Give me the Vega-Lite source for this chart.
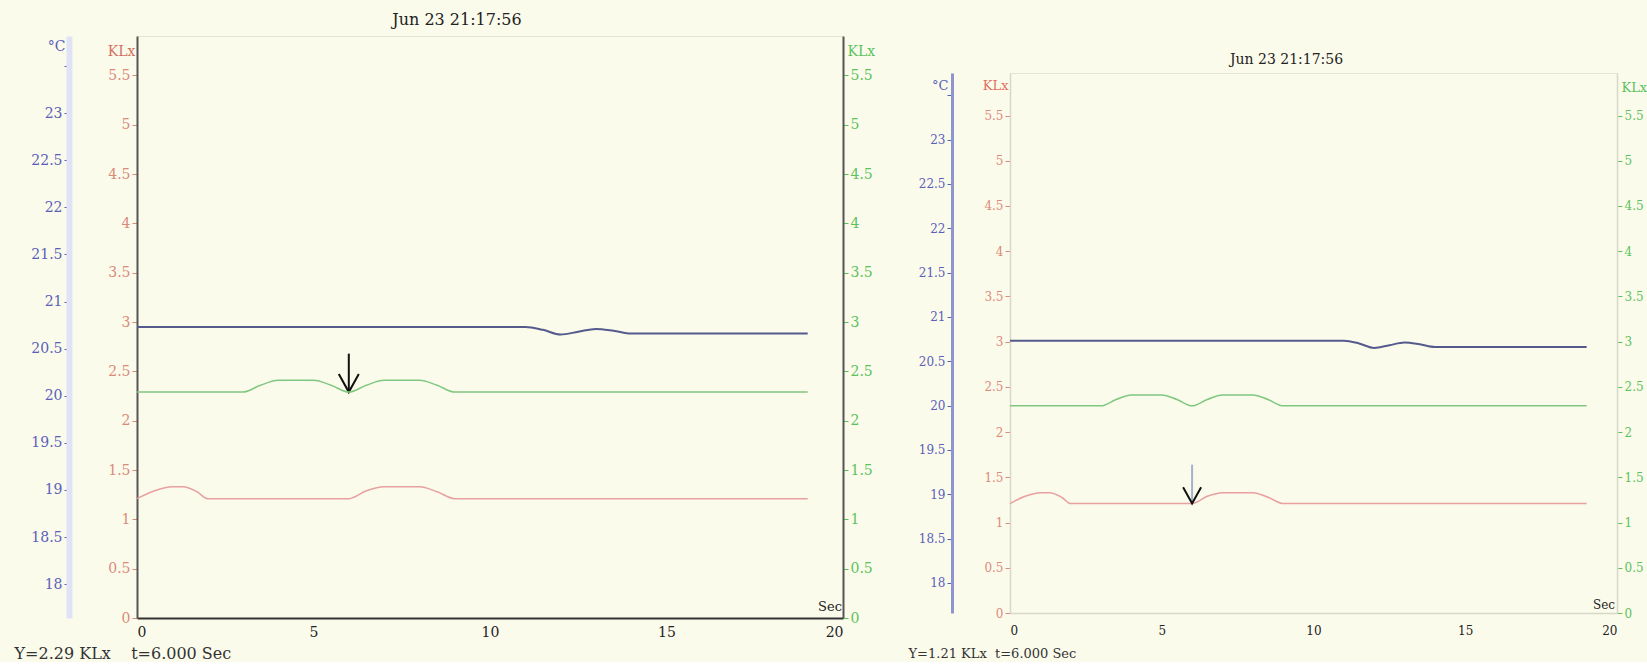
{
  "$schema": "https://vega.github.io/schema/vega-lite/v6.json",
  "background": "#fbfbec",
  "padding": {"left": 13, "top": 11, "right": 0, "bottom": 0},
  "spacing": 31,
  "config": {
    "font": "DejaVu Serif",
    "view": {"stroke": null},
    "axis": {"grid": false, "labelFont": "DejaVu Serif", "titleFont": "DejaVu Serif", "titleFontWeight": "normal"},
    "title": {"font": "DejaVu Serif", "fontWeight": "normal", "color": "#222"}
  },
  "datasets": {
    "blue": [
      {"t": 0, "v": 20.73}, {"t": 11, "v": 20.73}, {"t": 11.5, "v": 20.7}, {"t": 12, "v": 20.65},
      {"t": 12.5, "v": 20.68}, {"t": 13, "v": 20.71}, {"t": 13.5, "v": 20.69}, {"t": 14, "v": 20.66}, {"t": 19, "v": 20.66}
    ],
    "green": [
      {"t": 0, "v": 2.29}, {"t": 3, "v": 2.29}, {"t": 3.5, "v": 2.36}, {"t": 4, "v": 2.41}, {"t": 5, "v": 2.41},
      {"t": 5.5, "v": 2.36}, {"t": 6, "v": 2.29}, {"t": 6.5, "v": 2.36}, {"t": 7, "v": 2.41}, {"t": 8, "v": 2.41},
      {"t": 8.5, "v": 2.36}, {"t": 9, "v": 2.29}, {"t": 19, "v": 2.29}
    ],
    "red": [
      {"t": 0, "v": 1.21}, {"t": 0.5, "v": 1.29}, {"t": 1, "v": 1.33}, {"t": 1.3, "v": 1.33}, {"t": 1.7, "v": 1.28},
      {"t": 2, "v": 1.21}, {"t": 6, "v": 1.21}, {"t": 6.5, "v": 1.29}, {"t": 7, "v": 1.33}, {"t": 8, "v": 1.33},
      {"t": 8.5, "v": 1.28}, {"t": 9, "v": 1.21}, {"t": 19, "v": 1.21}
    ],
    "arrowL": [{"t": 6, "top": 2.68, "tip": 2.29}],
    "arrowR": [{"t": 6, "top": 1.64, "tip": 1.21}],
    "sec": [{"t": 20, "v": 0, "label": "Sec"}]
  },
  "hconcat": [
    {
      "width": 706,
      "height": 582,
      "title": {"text": "Jun 23 21:17:56", "fontSize": 16, "offset": 8, "dx": -33},
      "view": {"stroke": "#e4e4d2"},
      "encoding": {
        "x": {
          "field": "t", "type": "quantitative",
          "scale": {"domain": [0, 20], "nice": false},
          "axis": {
            "values": [0, 5, 10, 15, 20], "ticks": false, "domainColor": "#333", "domainWidth": 2,
            "labelColor": "#222", "labelFontSize": 14, "labelPadding": 7,
            "title": "Y=2.29 KLx\u00a0\u00a0\u00a0\u00a0t=6.000 Sec", "titleFontSize": 16, "titleColor": "#333",
            "titleAlign": "left", "titleX": -123, "titleY": 35, "titleBaseline": "middle"
          }
        }
      },
      "layer": [
        {
          "data": {"name": "red"},
          "mark": {"type": "line", "color": "#e8a0a0", "strokeWidth": 1.5, "interpolate": "monotone"},
          "encoding": {
            "y": {
              "field": "v", "type": "quantitative",
              "scale": {"domain": [0, 5.9], "nice": false, "zero": false},
              "axis": {
                "orient": "left", "values": [0, 0.5, 1, 1.5, 2, 2.5, 3, 3.5, 4, 4.5, 5, 5.5], "format": "~g",
                "labelColor": "#db8a78", "labelFontSize": 14, "tickColor": "#db8a78", "tickSize": 5,
                "domainColor": "#555", "domainWidth": 2,
                "title": "KLx", "titleColor": "#d07060", "titleFontSize": 14, "titleAngle": 0,
                "titleAlign": "right", "titleBaseline": "middle", "titleX": -2, "titleY": 15
              }
            }
          }
        },
        {
          "data": {"name": "arrowL"},
          "mark": {"type": "rule", "color": "#111", "strokeWidth": 2},
          "encoding": {
            "y": {"field": "top", "type": "quantitative", "scale": {"domain": [0, 5.9], "nice": false, "zero": false}, "axis": null},
            "y2": {"field": "tip"}
          }
        },
        {
          "data": {"name": "arrowL"},
          "mark": {"type": "point", "shape": "M-1,-1.8L0,0L1,-1.8", "filled": false, "stroke": "#111", "strokeWidth": 2, "size": 400, "opacity": 1},
          "encoding": {"y": {"field": "tip", "type": "quantitative", "scale": {"domain": [0, 5.9], "nice": false, "zero": false}, "axis": null}}
        },
        {
          "data": {"name": "sec"},
          "mark": {"type": "text", "align": "right", "baseline": "bottom", "dx": -1, "dy": -4, "fontSize": 13, "color": "#222"},
          "encoding": {
            "y": {"field": "v", "type": "quantitative", "scale": {"domain": [0, 5.9], "nice": false, "zero": false}, "axis": null},
            "text": {"field": "label"}
          }
        },
        {
          "data": {"name": "green"},
          "mark": {"type": "line", "color": "#80c880", "strokeWidth": 1.5, "interpolate": "monotone"},
          "encoding": {
            "y": {
              "field": "v", "type": "quantitative",
              "scale": {"domain": [0, 5.9], "nice": false, "zero": false},
              "axis": {
                "orient": "right", "values": [0, 0.5, 1, 1.5, 2, 2.5, 3, 3.5, 4, 4.5, 5, 5.5], "format": "~g",
                "labelColor": "#5cc25c", "labelFontSize": 14, "tickColor": "#5cc25c", "tickSize": 5,
                "domainColor": "#555", "domainWidth": 2,
                "title": "KLx", "titleColor": "#5cc25c", "titleFontSize": 14, "titleAngle": 0,
                "titleAlign": "left", "titleBaseline": "middle", "titleX": 4, "titleY": 15
              }
            }
          }
        },
        {
          "data": {"name": "blue"},
          "mark": {"type": "line", "color": "#555a8c", "strokeWidth": 2, "interpolate": "monotone"},
          "encoding": {
            "y": {
              "field": "v", "type": "quantitative",
              "scale": {"domain": [17.64, 23.82], "nice": false, "zero": false},
              "axis": {
                "orient": "left", "offset": 68,
                "values": [18, 18.5, 19, 19.5, 20, 20.5, 21, 21.5, 22, 22.5, 23, 23.5], "format": "~g",
                "labelExpr": "datum.value == 23.5 ? '' : datum.label",
                "labelColor": "#5a60b8", "labelFontSize": 14, "tickColor": "#5a60b8", "tickSize": 5,
                "domainColor": "#e0e3f5", "domainWidth": 6,
                "title": "°C", "titleColor": "#5a60b8", "titleFontSize": 14, "titleAngle": 0,
                "titleAlign": "right", "titleBaseline": "middle", "titleX": -4, "titleY": 10
              }
            }
          }
        }
      ],
      "resolve": {"scale": {"y": "independent"}, "axis": {"y": "independent"}}
    },
    {
      "spacing": 0,
      "vconcat": [
        {
          "width": 1,
          "height": 16,
          "data": {"values": [{}]},
          "mark": {"type": "text", "text": ""},
          "encoding": {}
        },
        {
          "width": 607,
          "height": 540,
          "title": {"text": "Jun 23 21:17:56", "fontSize": 14, "offset": 6, "dx": -27},
          "view": {"stroke": "#e4e4d2"},
          "encoding": {
            "x": {
              "field": "t", "type": "quantitative",
              "scale": {"domain": [0, 20], "nice": false},
              "axis": {
                "values": [0, 5, 10, 15, 20], "ticks": false, "domainColor": "#d8d8c8", "domainWidth": 1.5,
                "labelColor": "#222", "labelFontSize": 12, "labelPadding": 12,
                "title": "Y=1.21 KLx\u00a0\u00a0t=6.000 Sec", "titleFontSize": 13, "titleColor": "#333",
                "titleAlign": "left", "titleX": -102, "titleY": 40, "titleBaseline": "middle"
              }
            }
          },
          "layer": [
            {
              "data": {"name": "red"},
              "mark": {"type": "line", "color": "#e8a0a0", "strokeWidth": 1.5, "interpolate": "monotone"},
              "encoding": {
                "y": {
                  "field": "v", "type": "quantitative",
                  "scale": {"domain": [0, 5.97], "nice": false, "zero": false},
                  "axis": {
                    "orient": "left", "values": [0, 0.5, 1, 1.5, 2, 2.5, 3, 3.5, 4, 4.5, 5, 5.5], "format": "~g",
                    "labelColor": "#db8a78", "labelFontSize": 12, "tickColor": "#db8a78", "tickSize": 5,
                    "domainColor": "#d8d8c8", "domainWidth": 1.5,
                    "title": "KLx", "titleColor": "#e07060", "titleFontSize": 13, "titleAngle": 0,
                    "titleAlign": "right", "titleBaseline": "middle", "titleX": -2, "titleY": 12
                  }
                }
              }
            },
            {
              "data": {"name": "arrowR"},
              "mark": {"type": "rule", "color": "#a8b0cc", "strokeWidth": 2},
              "encoding": {
                "y": {"field": "top", "type": "quantitative", "scale": {"domain": [0, 5.97], "nice": false, "zero": false}, "axis": null},
                "y2": {"field": "tip"}
              }
            },
            {
              "data": {"name": "arrowR"},
              "mark": {"type": "point", "shape": "M-1,-1.8L0,0L1,-1.8", "filled": false, "stroke": "#111", "strokeWidth": 2, "size": 324, "opacity": 1},
              "encoding": {"y": {"field": "tip", "type": "quantitative", "scale": {"domain": [0, 5.97], "nice": false, "zero": false}, "axis": null}}
            },
            {
              "data": {"name": "sec"},
              "mark": {"type": "text", "align": "right", "baseline": "bottom", "dx": -2, "dy": -1, "fontSize": 12, "color": "#222"},
              "encoding": {
                "y": {"field": "v", "type": "quantitative", "scale": {"domain": [0, 5.97], "nice": false, "zero": false}, "axis": null},
                "text": {"field": "label"}
              }
            },
            {
              "data": {"name": "green"},
              "mark": {"type": "line", "color": "#80c880", "strokeWidth": 1.5, "interpolate": "monotone"},
              "encoding": {
                "y": {
                  "field": "v", "type": "quantitative",
                  "scale": {"domain": [0, 5.97], "nice": false, "zero": false},
                  "axis": {
                    "orient": "right", "values": [0, 0.5, 1, 1.5, 2, 2.5, 3, 3.5, 4, 4.5, 5, 5.5], "format": "~g",
                    "labelColor": "#5cc25c", "labelFontSize": 12, "tickColor": "#5cc25c", "tickSize": 5,
                    "domainColor": "#d8d8c8", "domainWidth": 1.5,
                    "title": "KLx", "titleColor": "#5cc25c", "titleFontSize": 13, "titleAngle": 0,
                    "titleAlign": "left", "titleBaseline": "middle", "titleX": 4, "titleY": 14
                  }
                }
              }
            },
            {
              "data": {"name": "blue"},
              "mark": {"type": "line", "color": "#555a8c", "strokeWidth": 2, "interpolate": "monotone"},
              "encoding": {
                "y": {
                  "field": "v", "type": "quantitative",
                  "scale": {"domain": [17.66, 23.75], "nice": false, "zero": false},
                  "axis": {
                    "orient": "left", "offset": 58,
                    "values": [18, 18.5, 19, 19.5, 20, 20.5, 21, 21.5, 22, 22.5, 23, 23.5], "format": "~g",
                    "labelExpr": "datum.value == 23.5 ? '' : datum.label",
                    "labelColor": "#5a60b8", "labelFontSize": 12, "tickColor": "#5a60b8", "tickSize": 5,
                    "domainColor": "#8e95cf", "domainWidth": 3,
                    "title": "°C", "titleColor": "#5a60b8", "titleFontSize": 13, "titleAngle": 0,
                    "titleAlign": "right", "titleBaseline": "middle", "titleX": -4, "titleY": 12
                  }
                }
              }
            }
          ],
          "resolve": {"scale": {"y": "independent"}, "axis": {"y": "independent"}}
        }
      ]
    }
  ]
}
